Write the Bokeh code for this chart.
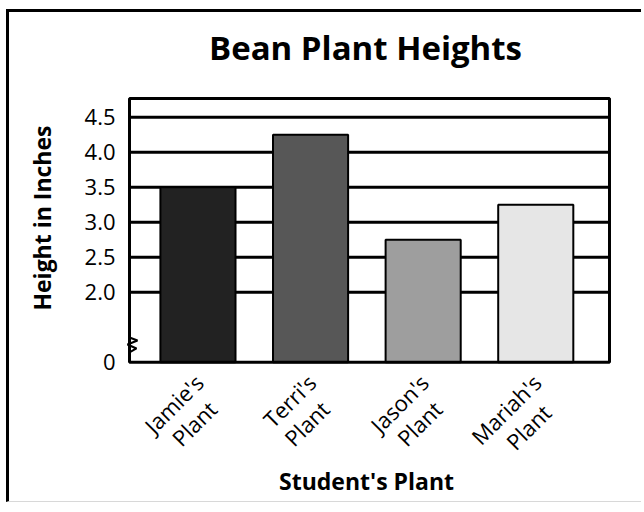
import math
from bokeh.plotting import figure
from bokeh.models import FixedTicker, Range1d, Title
from bokeh.core.properties import value
from bokeh.embed import file_html
from bokeh.resources import INLINE

# ---- data ----
label_line1 = ["Jamie's", "Terri's", "Jason's", "Mariah's"]
label_line2 = ["Plant", "Plant", "Plant", "Plant"]
heights = [3.5, 4.25, 2.75, 3.25]
bar_colors = ["#222222", "#575757", "#9e9e9e", "#e6e6e6"]
y_ticks = [1.0, 2.0, 2.5, 3.0, 3.5, 4.0, 4.5]
y_tick_labels = ["0", "2.0", "2.5", "3.0", "3.5", "4.0", "4.5"]
title_text = "Bean Plant Heights"
x_title = "Student's Plant"
y_title = "Height in Inches"
axis_break = 1.0          # the value axis is broken: 0 is drawn at 1.0
break_y = [1.353, 1.31, 1.253, 1.196, 1.139]
break_dx = [0.0, 0.071, -0.018, 0.062, 0.0]

xs = list(range(1, len(heights) + 1))
FONT = "Open Sans"

# ---- chart box (in data units) and pixel layout ----
CX0, CX1 = 0.392, 4.655      # x extent of the chart box
CY_TOP = 4.767               # top of the chart box
BOX_L, BOX_B = 129, 361.7    # pixel position of the box's left / bottom edge
PPX, PPY = 112.6, 70.0       # pixels per data unit


def dx(px):
    return CX0 + (px - BOX_L) / PPX


def dy(py):
    return axis_break + (BOX_B - py) / PPY


FR_L, FR_R, FR_T, FR_B = 126, 612, 20, 505   # frame in page pixels
OX, OY = 9, 12                               # page position of the canvas

p = figure(width=635, height=493, output_backend="svg", toolbar_location=None,
           x_range=Range1d(dx(FR_L), dx(FR_R)), y_range=Range1d(dy(FR_B), dy(FR_T)),
           min_border_left=FR_L - OX, min_border_right=644 - FR_R,
           min_border_top=FR_T - OY, min_border_bottom=0)
p.title = None
p.styles = {"border-left": "3px solid black", "border-top": "3px solid black",
            "border-bottom": "1px solid #d8d8d8", "margin-left": "6px",
            "margin-top": "9px"}
p.outline_line_color = None
p.xgrid.visible = False
p.ygrid.visible = False
p.xaxis.visible = False

# grid lines (only inside the box)
n = len(y_ticks) - 1
p.segment(x0=[CX0] * n, x1=[CX1] * n, y0=y_ticks[1:], y1=y_ticks[1:],
          line_color="black", line_width=3)

# bars
p.vbar(x=xs, top=heights, bottom=axis_break, width=0.667, fill_color=bar_colors,
       line_color="black", line_width=2)

# chart box
p.quad(left=[CX0], right=[CX1], bottom=[axis_break], top=[CY_TOP],
       fill_color=None, line_color="black", line_width=3)

# axis break zigzag
p.line(x=[CX0 + d for d in break_dx], y=break_y, line_color="black", line_width=2)

# title
p.text(x=[dx(365)], y=[dy(47)], text=[title_text], text_align="center",
       text_baseline="middle", text_font=value(FONT), text_font_size=value("33px"),
       text_font_style="bold", text_color="black")

# x title
p.text(x=[dx(366)], y=[dy(480)], text=[x_title], text_align="center",
       text_baseline="middle", text_font=value(FONT), text_font_size=value("23px"),
       text_font_style="bold", text_color="black")

# rotated two-line category labels
LFS = 22
ang = math.pi / 4
c = math.cos(ang)
AY = 16
LS = 20
l1x, l1y, l2x, l2y = [], [], [], []
for xi, t1 in zip(xs, label_line1):
    w1 = 0.46 * LFS * len(t1)
    l1x.append(xi + 1 / PPX)
    l1y.append(dy(BOX_B + AY))
    l2x.append(xi + (1 - c * w1 / 2 + LS) / PPX)
    l2y.append(dy(BOX_B + AY + c * w1 / 2 + LS))
p.text(x=l1x, y=l1y, text=label_line1, angle=ang, text_align="right",
       text_baseline="middle", text_font=value(FONT),
       text_font_size=value(f"{LFS}px"), text_color="black")
p.text(x=l2x, y=l2y, text=label_line2, angle=ang, text_align="center",
       text_baseline="middle", text_font=value(FONT),
       text_font_size=value(f"{LFS}px"), text_color="black")

# y axis
ya = p.yaxis[0]
ya.ticker = FixedTicker(ticks=y_ticks)
ya.major_label_overrides = {t: l for t, l in zip(y_ticks, y_tick_labels)}
ya.major_label_text_font = FONT
ya.major_label_text_font_size = "22px"
ya.major_label_text_color = "black"
ya.major_label_standoff = 11
ya.major_tick_line_color = None
ya.major_tick_out = 0
ya.major_tick_in = 0
ya.minor_tick_line_color = None
ya.minor_tick_out = 0
ya.axis_line_color = None
ya.axis_label = " "
ya.axis_label_text_font_size = "1px"
ya.axis_label_standoff = 20

p.add_layout(Title(text=y_title, align="right", offset=125 - FR_T, standoff=0,
                   text_font=FONT, text_font_size="23px", text_font_style="bold",
                   text_color="black"), "left")

open("out.html", "w").write(file_html(p, INLINE))
